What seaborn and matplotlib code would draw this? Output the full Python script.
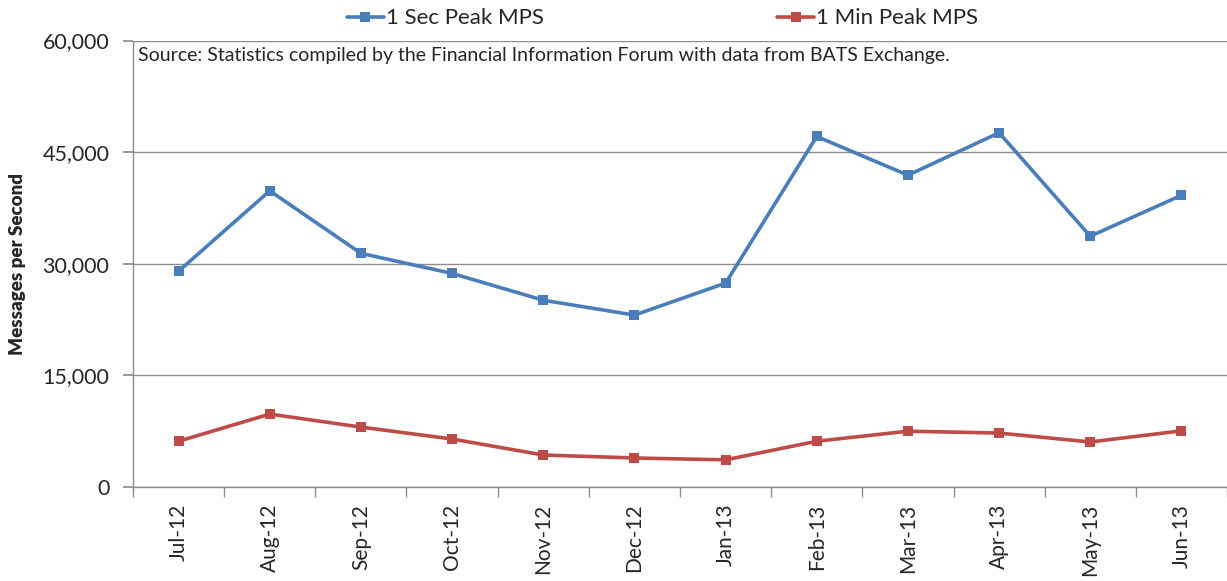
import matplotlib
matplotlib.use("Agg")
import matplotlib.pyplot as plt
import seaborn as sns
import pandas as pd
import numpy as np

months = ["Jul-12", "Aug-12", "Sep-12", "Oct-12", "Nov-12", "Dec-12",
          "Jan-13", "Feb-13", "Mar-13", "Apr-13", "May-13", "Jun-13"]
sec_peak = [29000, 39800, 31400, 28700, 25100, 23100,
            27400, 47100, 41900, 47600, 33700, 39200]
min_peak = [6150, 9800, 8050, 6450, 4300, 3900,
            3650, 6150, 7500, 7250, 6050, 7550]
series_names = ["1 Sec Peak MPS", "1 Min Peak MPS"]
y_ticks = [0, 15000, 30000, 45000, 60000]
source_text = "Source: Statistics compiled by the Financial Information Forum with data from BATS Exchange."

sns.set_theme(style="white")
plt.rcParams["font.family"] = ["Lato", "DejaVu Sans"]

df = pd.DataFrame({
    "Month": months * 2,
    "pos": list(range(len(months))) * 2,
    "Value": sec_peak + min_peak,
    "Series": [series_names[0]] * len(months) + [series_names[1]] * len(months),
})

fig = plt.figure(figsize=(12.27, 5.81), dpi=100)
ax = fig.add_axes([133 / 1227, 94 / 581, 1 - 133 / 1227, (487 - 40.5) / 581])

palette = {series_names[0]: "#4A7EBB", series_names[1]: "#BE4B48"}
sns.lineplot(data=df, x="pos", y="Value", hue="Series", palette=palette,
             marker="s", markersize=7, markeredgewidth=0, linewidth=2.6,
             ax=ax, legend=False)

ax.set_xlim(-0.5, len(months) - 0.5)
ax.set_ylim(0, 60000)
ax.set_yticks(y_ticks)
ax.set_yticklabels([f"{v:,}" for v in y_ticks], fontsize=15.5)
ax.yaxis.grid(True, color="#8C8C8C", linewidth=1)
ax.xaxis.grid(False)
ax.set_xticks(range(len(months)))
ax.set_xticklabels(months, rotation=90, fontsize=15)
ax.set_xticks(np.arange(-0.5, len(months), 1.0), minor=True)
ax.tick_params(axis="x", which="major", length=0, pad=12)
ax.tick_params(axis="x", which="minor", length=7, color="#8C8C8C", direction="out", bottom=True)
ax.tick_params(axis="y", length=7, color="#8C8C8C", direction="out", left=True, pad=10)
ax.set_xlabel("")
ax.set_ylabel("Messages per Second", fontsize=13.5, fontweight="heavy", labelpad=12)

for s in ["top", "right"]:
    ax.spines[s].set_visible(False)
for s in ["left", "bottom"]:
    ax.spines[s].set_color("#8C8C8C")
    ax.spines[s].set_linewidth(1)

ax.text(0.005, 0.985, source_text, transform=ax.transAxes, fontsize=14,
        ha="left", va="top")

handles = [plt.Line2D([], [], color=palette[n], marker="s", markersize=7,
                      markeredgewidth=0, linewidth=2.6) for n in series_names]
fig.legend(handles, series_names, loc="upper center", bbox_to_anchor=(0.54, 1.02),
           ncol=2, frameon=False, fontsize=16, columnspacing=10.5,
           handlelength=1.65, handletextpad=0.1)

fig.savefig("out.png", dpi=100)
